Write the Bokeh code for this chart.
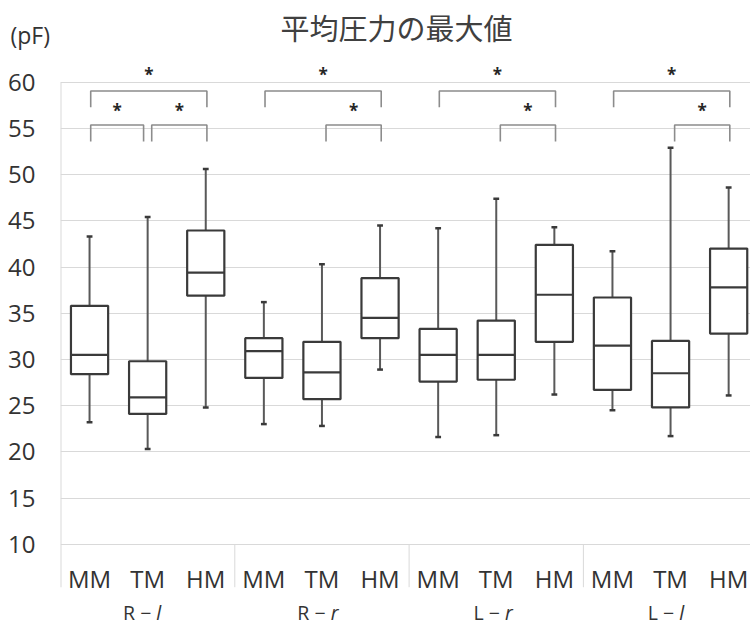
from bokeh.plotting import figure
from bokeh.models import Range1d, FixedTicker, ColumnDataSource, Title
from bokeh.core.properties import value
from bokeh.embed import file_html
from bokeh.resources import INLINE

# ---------------- data ----------------
group_prefix = ["R − ", "R − ", "L − ", "L − "]
group_suffix = ["l", "r", "r", "l"]
categories = ["MM", "TM", "HM"]

whisker_low = [23.2, 20.3, 24.8, 23.0, 22.8, 28.9, 21.6, 21.8, 26.2, 24.5, 21.7, 26.1]
q1 = [28.4, 24.1, 36.9, 28.0, 25.7, 32.3, 27.6, 27.8, 31.9, 26.7, 24.8, 32.8]
median = [30.5, 25.9, 39.4, 30.9, 28.6, 34.5, 30.5, 30.5, 37.0, 31.5, 28.5, 37.8]
q3 = [35.8, 29.8, 43.95, 32.3, 31.9, 38.8, 33.3, 34.2, 42.4, 36.7, 32.0, 42.0]
whisker_high = [43.3, 45.4, 50.6, 36.2, 40.3, 44.5, 44.2, 47.4, 44.3, 41.7, 52.9, 48.6]

y_ticks = [10, 15, 20, 25, 30, 35, 40, 45, 50, 55, 60]

# significance comparisons (group index, from category, to category)
sig_group = [0, 0, 0, 1, 1, 2, 2, 3, 3]
sig_from = [0, 0, 1, 0, 1, 0, 1, 0, 1]
sig_to = [2, 1, 2, 2, 2, 2, 2, 2, 2]
sig_mark = ["*"] * 9

title_text = "平均圧力の最大値"
unit_text = "(pF)"

# ---------------- figure ----------------
n_cat = len(categories)
n_grp = len(group_prefix)
xs = [g * n_cat + c + 0.5 for g in range(n_grp) for c in range(n_cat)]
bounds = [g * n_cat for g in range(n_grp)]

PX = 9.24                     # pixels per y unit
y_lo = y_ticks[0]
cat_y = y_lo - 34 / PX        # category label row
grp_y = y_lo - 68.5 / PX      # group label row
sep_y = y_lo - 43 / PX        # bottom of separators

p = figure(width=750, height=635,
           x_range=Range1d(0, 11.876), y_range=Range1d(0.12, 62.35),
           output_backend="svg", toolbar_location=None,
           min_border_left=60, min_border_right=0,
           min_border_top=60, min_border_bottom=0)
p.outline_line_color = None
p.background_fill_color = "white"
p.border_fill_color = "white"
p.xaxis.visible = False

# titles
p.title.text = title_text
p.title.text_font = "Noto Sans CJK JP"
p.title.text_font_size = "29px"
p.title.text_font_style = "normal"
p.title.text_color = "#404040"
p.title.align = "left"
p.title.offset = 220
p.title.standoff = -81

p.add_layout(Title(text=unit_text, align="left", offset=-50, standoff=19,
                   text_font="Open Sans", text_font_size="23px",
                   text_font_style="normal", text_color="#333333"), "above")

# grid
p.xgrid.visible = False
p.ygrid.ticker = FixedTicker(ticks=y_ticks)
p.ygrid.grid_line_color = "#d9d9d9"
p.ygrid.grid_line_width = 1

# y axis
p.yaxis.ticker = FixedTicker(ticks=y_ticks)
p.yaxis.axis_line_color = None
p.yaxis.major_tick_line_color = None
p.yaxis.minor_tick_line_color = None
p.yaxis.major_tick_out = 0
p.yaxis.major_tick_in = 0
p.yaxis.major_label_standoff = 25
p.yaxis.major_label_text_font = "Open Sans"
p.yaxis.major_label_text_font_size = "24px"
p.yaxis.major_label_text_color = "#333333"

# left axis line and group separators
p.segment(x0=[bounds[0]], y0=[y_lo], x1=[bounds[0]], y1=[y_ticks[-1]],
          line_color="#d9d9d9", line_width=2)
p.segment(x0=bounds, y0=[y_lo] * len(bounds), x1=bounds, y1=[sep_y] * len(bounds),
          line_color="#d9d9d9", line_width=[2] + [1] * (len(bounds) - 1))

# category labels
p.text(x=xs, y=[cat_y] * len(xs), text=[categories[i % n_cat] for i in range(len(xs))],
       text_font=value("Open Sans"), text_font_size="24px", text_align="center",
       text_baseline="middle", text_color="#333333")

# group labels (with italic suffix)
gx = [g * n_cat + n_cat / 2 + 0.15 for g in range(n_grp)]
p.text(x=gx, y=[grp_y] * n_grp, text=group_prefix, text_font=value("Open Sans"),
       text_font_size="19.5px", text_align="right", text_baseline="middle",
       text_color="#333333")
p.text(x=gx, y=[grp_y] * n_grp, text=group_suffix, text_font=value("Open Sans"),
       text_font_size="19.5px", text_font_style="italic", text_align="left",
       text_baseline="middle", text_color="#333333")

# ---------------- box plots ----------------
src = ColumnDataSource(dict(x=xs, lo=whisker_low, q1=q1, med=median, q3=q3, hi=whisker_high,
                            xl=[x - 0.32 for x in xs], xr=[x + 0.32 for x in xs],
                            cl=[x - 0.05 for x in xs], cr=[x + 0.05 for x in xs]))
wcol = "#595959"
bcol = "#3a3a3a"
p.segment(x0="x", y0="q3", x1="x", y1="hi", source=src, line_color=wcol, line_width=2)
p.segment(x0="x", y0="lo", x1="x", y1="q1", source=src, line_color=wcol, line_width=2)
p.segment(x0="cl", y0="hi", x1="cr", y1="hi", source=src, line_color=bcol, line_width=2.5)
p.segment(x0="cl", y0="lo", x1="cr", y1="lo", source=src, line_color=bcol, line_width=2.5)
p.vbar(x="x", width=0.64, bottom="q1", top="q3", source=src,
       fill_color="white", line_color=bcol, line_width=2.2)
p.segment(x0="xl", y0="med", x1="xr", y1="med", source=src, line_color=bcol, line_width=2.2)

# ---------------- significance brackets ----------------
bx, by, sx, sy = [], [], [], []
for g, a, b in zip(sig_group, sig_from, sig_to):
    xa = g * n_cat + a + 0.5
    xb = g * n_cat + b + 0.5
    top_level = (a == 0 and b == n_cat - 1)
    left = xa + (0.02 if a == 0 else 0.07)
    right = xb + (0.02 if b == n_cat - 1 else -0.07)
    h, leg, star = (59.05, 57.3, 60.94) if top_level else (55.37, 53.58, 57.05)
    bx.append([left, left, right, right])
    by.append([leg, h, h, leg])
    sx.append((left + right) / 2)
    sy.append(star - 1 / PX)
p.multi_line(xs=bx, ys=by, line_color="#8c8c8c", line_width=1.6)
p.text(x=sx, y=sy, text=sig_mark, text_font=value("Open Sans"), text_font_size="17px",
       text_font_style="bold", text_align="center", text_baseline="alphabetic",
       text_color="#262626")

open("out.html", "w").write(file_html(p, INLINE))
